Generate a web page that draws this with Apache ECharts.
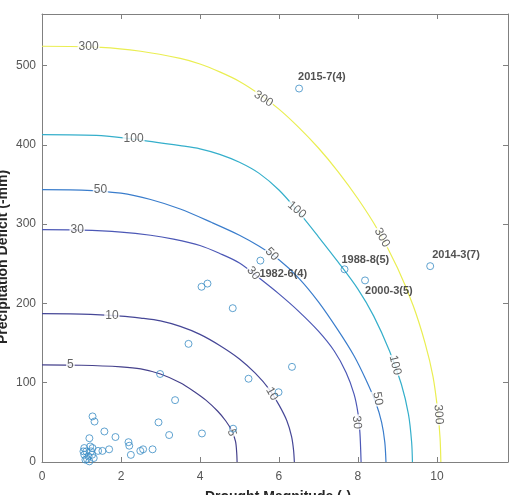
<!DOCTYPE html>
<html>
<head>
<meta charset="utf-8">
<script src="https://cdn.jsdelivr.net/npm/echarts@6/dist/echarts.min.js"></script>
<style>
html, body { margin: 0; padding: 0; background: #fff; }
#chart { width: 515px; height: 495px; }
</style>
</head>
<body>
<div id="chart"></div>
<script>
// joint return period contours, [magnitude, deficit]
const curve5 = [[0, 122.5], [1, 122], [2, 120], [2.5, 117.5], [3, 111], [3.5, 100], [3.85, 89], [4.15, 78], [4.45, 64], [4.65, 52], [4.8, 40], [4.9, 26], [4.93, 12], [4.94, 0]]
const curve10 = [[0, 187], [1, 186.5], [2, 184], [2.5, 181.5], [3, 178], [3.5, 171], [4, 161], [4.5, 147], [5, 130], [5.4, 112], [5.75, 92], [6, 72], [6.2, 52], [6.32, 32], [6.37, 15], [6.39, 0]]
const curve30 = [[0, 293], [1, 292.5], [2, 290], [2.75, 286], [3.33, 281], [4, 273], [4.5, 263], [5, 251], [5.5, 232], [6, 212], [6.5, 190], [7, 165], [7.4, 140], [7.7, 113], [7.9, 86], [8, 62], [8.05, 37], [8.08, 0]]
const curve50 = [[0, 343.6], [1, 343], [2, 339], [2.75, 331], [3.5, 319], [4.3, 302], [5, 286], [5.5, 272], [6, 255], [6.5, 232], [7, 202], [7.5, 166], [7.9, 134], [8.2, 104], [8.45, 75], [8.6, 50], [8.68, 25], [8.71, 0]]
const curve100 = [[0, 412.8], [1.5, 411.5], [2.5, 406], [3.5, 399], [4, 395], [4.5, 388], [5, 378], [5.5, 364], [6, 343], [6.5, 315], [7, 284], [7.5, 252], [8, 218], [8.4, 184], [8.8, 140], [9.1, 98], [9.28, 60], [9.36, 25], [9.38, 0]]
const curve300 = [[0, 524.3], [1.5, 523], [2.5, 518], [3.5, 509], [4, 502], [4.5, 492], [5, 480], [5.5, 464], [6, 445], [6.5, 422], [7, 396], [7.5, 366], [8, 332], [8.5, 293], [9, 245], [9.4, 197], [9.7, 150], [9.9, 108], [10.02, 65], [10.08, 30], [10.1, 0]]
const contourLevels = ['5', '10', '30', '50', '100', '300']
const contourCurves = [curve5, curve10, curve30, curve50, curve100, curve300]

// inline contour labels
const contourLabelText = ['300', '300', '300', '300', '100', '100', '100', '50', '50', '50', '30', '30', '30', '10', '10', '5', '5']
const contourLabelPos = [[1.18, 523.5], [5.61, 458], [8.61, 283], [10.04, 60], [2.32, 408], [6.45, 318], [8.94, 122], [1.48, 343.3], [5.82, 262], [8.5, 80], [0.89, 292.8], [5.35, 238], [7.97, 50], [1.77, 185], [5.82, 86], [0.72, 122.2], [4.8, 37]]

// drought events
const eventX = [6.51, 9.83, 7.66, 8.18, 5.53, 4.04, 4.19, 4.83, 3.71, 2.99, 5.23, 6.33, 5.99, 3.37, 4.84, 2.95, 3.22, 4.05, 2.80, 2.19, 2.21, 2.25, 2.49, 2.56, 1.86, 1.58, 1.28, 1.33, 1.20, 1.70, 1.53, 1.42,
    1.07, 1.07, 1.10, 1.14, 1.18, 1.22, 1.24, 1.27, 1.31, 1.12, 1.20, 1.28, 1.05]
const eventY = [471, 247, 243, 229, 254, 221, 225, 194, 149, 111, 105, 120, 88, 78, 42, 50, 34, 36, 16, 25, 20.5, 9, 14, 16, 31.5, 38.5, 57.5, 51, 30, 16, 14, 14,
    17.6, 9.2, 2.9, 3.8, 7, 19.6, 13.4, 9.2, 5, 13.4, 0.8, 17.6, 13.4]
const namedEvents = ['2015-7(4)', '2014-3(7)', '1988-8(5)', '2000-3(5)', '1982-6(4)']

// label placement (px offsets from the point), kept apart from the data
const contourLabelRotate = [0, -32, -60, -86, 0, -40, -76, 0, -46, -80, 0, -50, -84, 0, -60, 0, -72]
const eventLabelOffset = [[-1, -12], [2, -11], [-3, -9], [0, 11], [-1, 13]]
const contourColors = ['#45418c', '#464797', '#4c58b6', '#3a7dcc', '#35afcb', '#eaee52']

const chartDom = document.getElementById('chart')
const myChart = echarts.init(chartDom, null, {renderer: 'canvas'})

const axisGray = '#808080'
const labelGray = '#555'

let series = []
contourCurves.forEach((curve, i) => {
    series.push({
        type: 'line',
        name: contourLevels[i],
        data: curve,
        showSymbol: false,
        smooth: 0.3,
        silent: true,
        z: 2,
        lineStyle: {width: 1.2, color: contourColors[i]}
    })
})

series.push({
    type: 'scatter',
    symbolSize: 1,
    silent: true,
    z: 3,
    itemStyle: {color: 'rgba(0,0,0,0)'},
    data: contourLabelPos.map((p, i) => ({
        value: p,
        name: contourLabelText[i],
        label: {rotate: contourLabelRotate[i]}
    })),
    label: {
        show: true,
        position: 'inside',
        formatter: (p) => p.name,
        fontFamily: 'Liberation Sans',
        fontSize: 12,
        color: '#3c3c3c',
        backgroundColor: '#fff',
        padding: [0, 1]
    }
})

series.push({
    type: 'scatter',
    symbol: 'circle',
    symbolSize: 7,
    silent: true,
    z: 4,
    itemStyle: {color: 'rgba(0,0,0,0)', borderColor: '#3a8cc4', borderWidth: 1},
    data: eventX.map((x, i) => {
        let item = {value: [x, eventY[i]]}
        if (i < namedEvents.length) {
            item.name = namedEvents[i]
            item.label = {
                show: true,
                position: 'inside',
                align: 'left',
                verticalAlign: 'middle',
                offset: eventLabelOffset[i],
                formatter: (p) => p.name,
                fontFamily: 'Liberation Sans',
                fontWeight: 'bold',
                fontSize: 11,
                color: '#262626'
            }
        }
        return item
    })
})

const sideAxis = {
    axisLine: {show: true, onZero: false, lineStyle: {color: axisGray}},
    axisTick: {show: true, inside: true, length: 5, lineStyle: {color: axisGray}},
    axisLabel: {show: false},
    splitLine: {show: false}
}

let option = {
    animation: false,
    backgroundColor: '#fff',
    grid: {left: 42, top: 14, width: 466, height: 448},
    xAxis: [{
        type: 'value', min: 0, max: 11.8, interval: 2,
        axisLine: {show: true, onZero: false, lineStyle: {color: axisGray}},
        axisTick: {show: true, inside: true, length: 5, lineStyle: {color: axisGray}},
        axisLabel: {color: labelGray, fontSize: 12, fontFamily: 'Liberation Sans', margin: 9, showMaxLabel: false},
        splitLine: {show: false}
    }, Object.assign({type: 'value', position: 'top', min: 0, max: 11.8, interval: 2}, sideAxis)],
    yAxis: [{
        type: 'value', min: 0, max: 565, interval: 100,
        axisLine: {show: true, onZero: false, lineStyle: {color: axisGray}},
        axisTick: {show: true, inside: true, length: 5, lineStyle: {color: axisGray}},
        axisLabel: {color: labelGray, fontSize: 12, fontFamily: 'Liberation Sans', margin: 6, showMaxLabel: false},
        splitLine: {show: false}
    }, Object.assign({type: 'value', position: 'right', min: 0, max: 565, interval: 100}, sideAxis)],
    graphic: [{
        type: 'text',
        x: 278, y: 497,
        style: {
            text: 'Drought Magnitude (-)',
            font: 'bold 14px "Liberation Sans"',
            fill: '#262626',
            textAlign: 'center',
            textVerticalAlign: 'middle'
        }
    }, {
        type: 'text',
        x: 3, y: 257,
        rotation: Math.PI / 2,
        style: {
            text: 'Precipitation Deficit (-mm)',
            font: 'bold 14px "Liberation Sans"',
            fill: '#262626',
            textAlign: 'center',
            textVerticalAlign: 'middle'
        }
    }],
    series: series
}

myChart.setOption(option)
window.addEventListener('resize', () => {
    myChart.resize()
})
</script>
</body>
</html>
